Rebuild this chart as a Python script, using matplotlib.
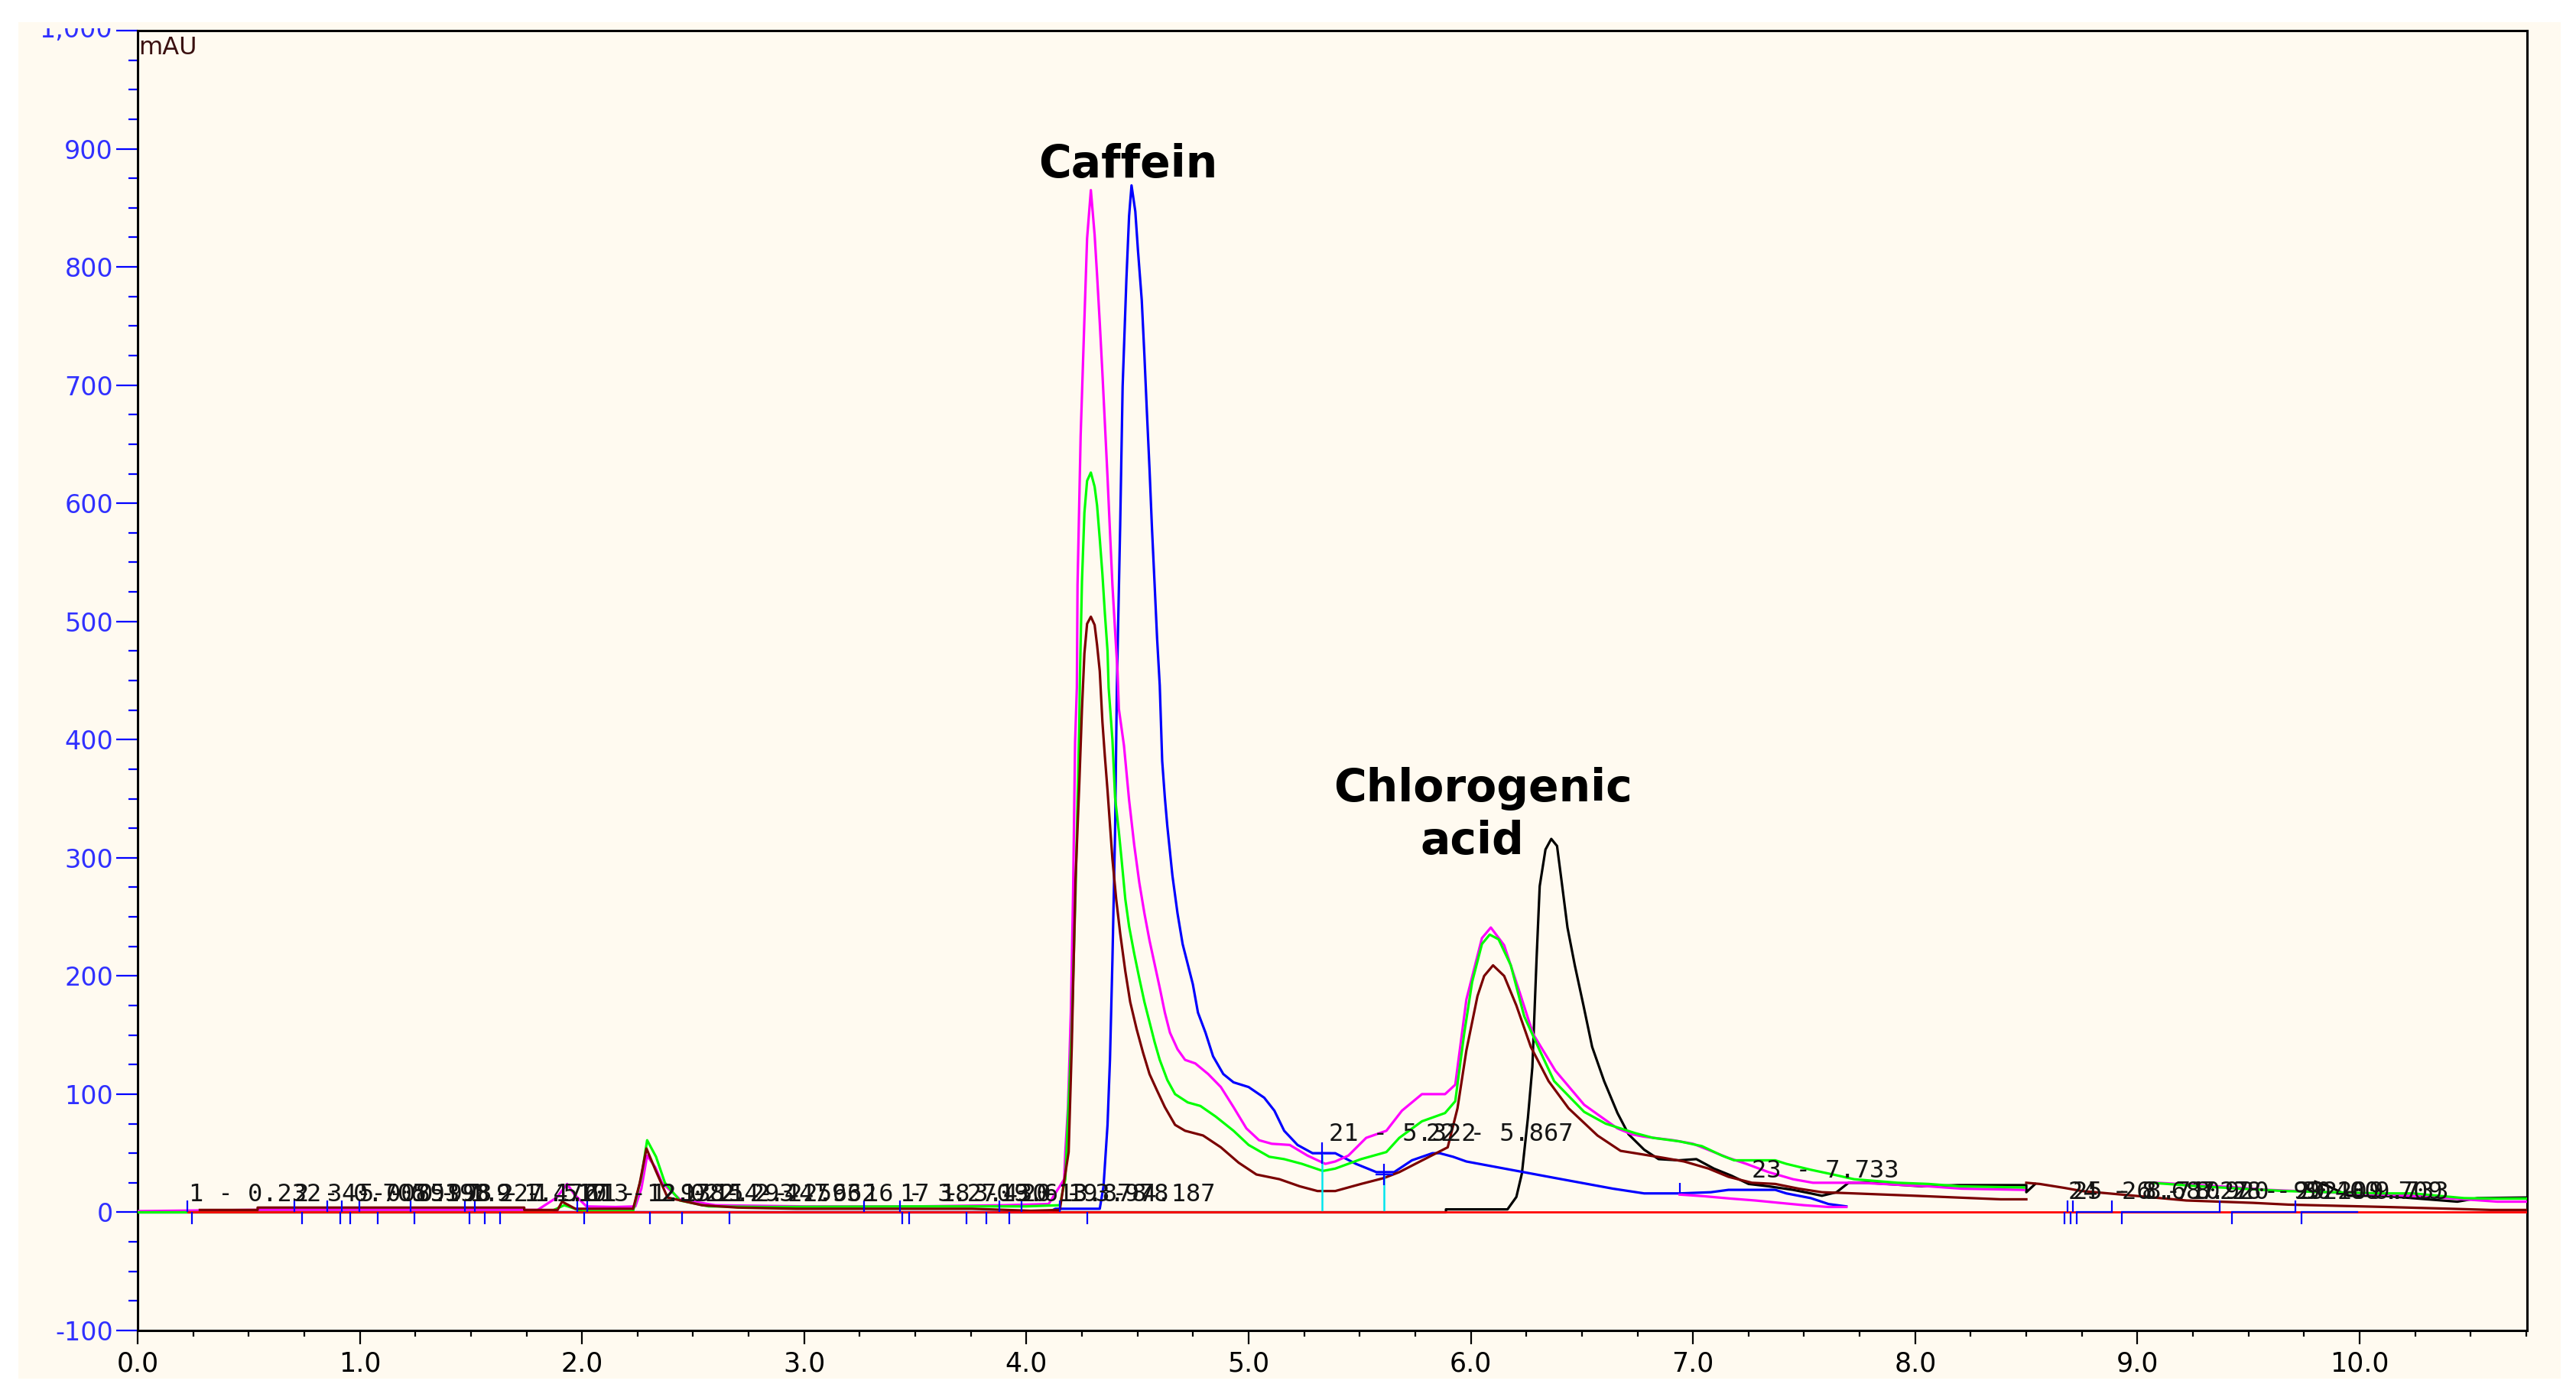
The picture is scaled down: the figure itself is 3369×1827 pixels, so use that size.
import numpy as np
import matplotlib
matplotlib.use('Agg')
from matplotlib import pyplot as plt
from matplotlib.patches import Rectangle
from matplotlib.transforms import Bbox, TransformedBbox
from matplotlib.ticker import MultipleLocator, FuncFormatter

nan = np.nan

# overlay of 5 chromatograms, time in min, signal in mAU
magenta_t = [0.0, 0.5, 1.0, 1.5, 1.80, 1.886, 1.933, 1.966, 2.02, 2.15, 2.24, 2.267, 2.293, 2.33, 2.36,
             2.44, 2.60, 3.0, 3.5, 3.9, 4.10, 4.17, 4.175, 4.187, 4.20, 4.21, 4.219, 4.227, 4.230, 4.244,
             4.261, 4.273, 4.29, 4.307, 4.318, 4.33, 4.342, 4.353, 4.365, 4.376, 4.387, 4.399, 4.41, 4.416,
             4.439, 4.462, 4.485, 4.508, 4.531, 4.554, 4.577, 4.60, 4.623, 4.646, 4.68, 4.714, 4.76, 4.818,
             4.875, 4.932, 4.99, 5.047, 5.104, 5.185, 5.265, 5.345, 5.39, 5.449, 5.529, 5.62, 5.69, 5.78,
             5.884, 5.93, 5.98, 6.05, 6.09, 6.15, 6.22, 6.28, 6.38, 6.51, 6.607, 6.66, 6.725, 6.78, 6.91,
             7.0, 7.08, 7.16, 7.24, 7.34, 7.45, 7.54, 7.75, 8.06, 8.21, 8.49, nan, 9.09, 9.41, 9.59, 10.28,
             10.62, 10.75]
magenta_v = [1, 2, 2, 2, 2, 12.5, 24, 15, 5, 4.5, 5, 20, 48, 38, 25,
             11, 6, 5, 5, 6, 7, 28, 51, 89, 169, 270, 398, 444, 531, 657,
             756, 824, 865, 827, 793, 753, 710, 668, 622, 576, 531, 492, 458, 426,
             395, 349, 311, 279, 253, 230, 210, 190, 169, 152, 138, 129, 126, 117,
             106, 89, 71, 61, 58, 57, 48, 41, 43, 48, 63, 69, 86, 100,
             100, 108, 180, 232, 241, 226, 186, 151, 120, 91, 78, 71, 66, 64, 61,
             58, 52, 46, 41, 34, 28, 25, 25, 22, 20, 19, nan, 25, 21.5, 19, 13.6,
             9, 9]
# short magenta piece under the blue tail
magenta_tail_t = [6.94, 7.05, 7.17, 7.28, 7.40, 7.50, 7.61, 7.69]
magenta_tail_v = [15, 13.6, 11.6, 10, 7.8, 6, 4.5, 4.5]

blue_t = [0.0, 4.10, 4.13, 4.33, 4.347, 4.365, 4.376, 4.387, 4.399, 4.407, 4.422, 4.433, 4.45, 4.462,
          4.473, 4.49, 4.502, 4.519, 4.531, 4.542, 4.554, 4.565, 4.577, 4.588, 4.60, 4.611, 4.623, 4.634,
          4.657, 4.68, 4.703, 4.726, 4.749, 4.772, 4.806, 4.84, 4.886, 4.932, 5.0, 5.07, 5.116, 5.16,
          5.22, 5.288, 5.39, 5.483, 5.575, 5.655, 5.735, 5.827, 5.86, 5.92, 5.98, 6.18, 6.38, 6.64,
          6.78, 6.94, 7.08, 7.16, 7.37, 7.42, 7.53, 7.61, 7.69]
blue_v = [0, 0, 3, 3, 22, 74, 129, 213, 322, 444, 582, 699, 790, 843,
          869, 847, 814, 772, 725, 678, 629, 579, 531, 486, 446, 382, 351, 327,
          285, 253, 227, 210, 193, 169, 152, 132, 117, 110, 106, 97, 86, 69,
          57, 50, 50, 41, 34, 34, 44, 50, 50, 47, 43, 36, 29, 20,
          16, 16, 17, 19, 19, 16, 12, 7, 5]

green_t = [0.0, 1.85, 1.92, 2.0, 2.23, 2.267, 2.293, 2.333, 2.373, 2.44, 2.57, 2.83, 3.5, 4.0, 4.15,
           4.175, 4.204, 4.221, 4.238, 4.241, 4.25, 4.261, 4.273, 4.29, 4.307, 4.318, 4.33, 4.342, 4.353,
           4.365, 4.37, 4.387, 4.399, 4.416, 4.428, 4.445, 4.462, 4.485, 4.508, 4.531, 4.554, 4.577, 4.60,
           4.634, 4.669, 4.726, 4.783, 4.852, 4.932, 5.0, 5.093, 5.16, 5.24, 5.334, 5.39, 5.506, 5.62,
           5.678, 5.78, 5.884, 5.93, 5.97, 6.006, 6.05, 6.085, 6.125, 6.18, 6.24, 6.31, 6.375, 6.51,
           6.607, 6.74, 6.82, 6.94, 7.04, 7.13, 7.185, 7.37, 7.42, 7.53, 7.63, 7.725, 7.92, 8.06, 8.20,
           8.49, nan, 9.06, 9.28, 9.66, 10.09, 10.24, 10.47, 10.62, 10.75]
green_v = [0, 0, 6, 1, 1, 30, 61, 47, 25, 10, 5, 4.5, 5, 5, 6,
           28, 155, 270, 415, 455, 534, 592, 619, 626, 614, 598, 570, 540, 507,
           475, 444, 400, 351, 322, 299, 265, 242, 219, 198, 178, 161, 144, 129,
           112, 100, 93, 90, 81, 69, 57, 47, 45, 41, 35, 37, 45, 51,
           63, 77, 84, 94, 151, 195, 227, 235, 231, 209, 166, 137, 111, 85,
           75, 67, 63, 60, 56, 48, 44, 44, 41, 36, 32, 28, 25, 24, 22,
           21, nan, 25, 22, 18, 16, 16, 12, 11.6, 11.6]

maroon_t = [0.28, 0.54, 0.54, 1.74, 1.74, 1.89, 1.91, 1.97, 2.23, 2.26, 2.29, 2.33, 2.385, 2.54, 2.70,
            2.965, 3.755, 4.02, 4.15, 4.19, 4.204, 4.221, 4.238, 4.25, 4.261, 4.273, 4.29, 4.307, 4.318,
            4.33, 4.342, 4.353, 4.365, 4.376, 4.387, 4.404, 4.422, 4.445, 4.467, 4.496, 4.525, 4.554,
            4.588, 4.623, 4.669, 4.714, 4.795, 4.875, 4.955, 5.035, 5.139, 5.23, 5.31, 5.39, 5.506, 5.609,
            5.678, 5.792, 5.896, 5.94, 5.98, 6.03, 6.06, 6.10, 6.15, 6.205, 6.27, 6.35, 6.44, 6.57, 6.674,
            6.74, 6.87, 6.96, 7.07, 7.16, 7.265, 7.37, 7.476, 7.58, 7.725, 8.0, 8.19, 8.385, 8.50, nan,
            8.50, 8.56, 8.67, 8.75, 8.93, 9.22, 9.52, 9.68, 10.12, 10.41, 10.59, 10.75]
maroon_v = [2, 2, 4, 4, 2, 2, 9, 3, 3, 25, 54, 36, 12.5, 6, 4,
            3, 3, 1.3, 2, 51, 140, 282, 363, 426, 473, 498, 504, 497, 480,
            458, 415, 386, 357, 328, 299, 265, 236, 204, 178, 155, 135, 117,
            103, 89, 74, 69, 65, 55, 42, 32, 28, 22, 18, 18, 24, 29,
            34, 45, 55, 88, 137, 183, 200, 209, 200, 175, 140, 111, 88, 65, 52,
            50, 46, 43, 37, 30, 25, 24, 20, 17, 16, 14, 12.5, 11, 11, nan,
            25, 24, 20.7, 18, 15, 10, 8, 6.5, 4.5, 3, 2, 2]

black_t = [0.0, 5.888, 5.888, 6.165, 6.205, 6.23, 6.257, 6.277, 6.296, 6.31, 6.336, 6.362, 6.388, 6.408,
           6.435, 6.468, 6.507, 6.546, 6.6, 6.66, 6.71, 6.78, 6.845, 6.936, 7.015, 7.094, 7.173, 7.25,
           7.34, 7.45, 7.53, 7.58, 7.646, 7.70, 7.79, 8.03, 8.19, 8.50, 8.50, 8.54, nan, 9.80, 9.86,
           9.95, 10.1, 10.44, 10.53, 10.75]
black_v = [0, 0, 2.5, 2.5, 13, 33, 80, 123, 215, 276, 307, 316, 310, 281,
           241, 209, 175, 140, 111, 84, 66, 53, 45, 44, 45, 37, 31, 24,
           22, 19, 16, 14, 17, 25, 25, 22, 23, 23, 17, 24, nan, 26, 22,
           14, 14, 9, 12, 12.5]

# integration marks
start_marks = [0.245, 0.74, 0.911, 0.956, 1.08, 1.246, 1.494, 1.562, 1.63, 2.01, 2.307, 2.45, 2.662,
               3.44, 3.473, 3.73, 3.82, 3.923, 4.275, 8.673, 8.70, 8.727, 8.93, 9.425, 9.74]
end_marks = [0.222, 0.705, 0.853, 0.919, 0.998, 1.227, 1.472, 1.517, 1.978, 2.022, 3.27, 3.43, 3.878,
             3.978, 4.15, 8.685, 8.71, 8.885, 9.37, 9.71]
base_from = [8.727, 8.93, 9.425, 9.74]
base_to = [8.885, 9.37, 9.71, 9.99]
split_t = [5.33, 5.61]
split_v = [50, 32]

peak_labels = ['1 - 0.232', '2 - 0.705', '3 - 0.853', '4 - 0.919', '5 - 0.998', '6 - 1.227', '7 - 1.472',
               '8 - 1.517', '9 - 1.613', '10 - 1.978', '11 - 2.022', '12 - 2.293', '13 - 2.447',
               '14 - 2.662', '15 - 2.593', '16 - 3.270', '17 - 3.430', '18 - 3.613', '19 - 3.878',
               '20 - 3.978', '19 - 4.187', '21 - 5.322', '22 - 5.867', '23 - 7.733', '24 - 8.687',
               '25 - 8.710', '26 - 8.920', '27 - 9.220', '28 - 9.400', '29 - 9.709', '30 - 9.733']
peak_label_t = [0.232, 0.705, 0.853, 0.919, 0.998, 1.227, 1.472, 1.517, 1.613, 1.978, 2.022, 2.293, 2.447,
                2.662, 2.593, 3.27, 3.43, 3.613, 3.878, 3.978, 4.187, 5.36, 5.80, 7.265, 8.69, 8.71, 8.93,
                9.37, 9.425, 9.71, 9.74]
peak_label_y = [5] * 21 + [56, 56, 25] + [7] * 7

W, H = 3369, 1827
cream = '#fffaf0'

fig = plt.figure(figsize=(W / 100, H / 100), dpi=100)
fig.patch.set_facecolor('white')
fig.add_artist(Rectangle((24 / W, 1 - 1803 / H), (3349 - 24) / W, (1803 - 29) / H,
                         transform=fig.transFigure, facecolor=cream, edgecolor='none', zorder=-10))

ax = fig.add_axes([180 / W, 1 - 1740 / H, 3125 / W, 1700 / H])
ax.set_facecolor(cream)
ax.set_xlim(0, 3125 / 290.6)
ax.set_ylim(-100, 1000)

lw = 2.3
ax.plot(black_t, black_v, color='black', lw=lw, zorder=2)
ax.plot(blue_t, blue_v, color='#0000ff', lw=lw, zorder=3)
ax.plot(magenta_t, magenta_v, color='#ff00ff', lw=lw, zorder=4)
ax.plot(magenta_tail_t, magenta_tail_v, color='#ff00ff', lw=lw, zorder=4)
ax.plot(green_t, green_v, color='#00ff00', lw=lw, zorder=5)
ax.plot(maroon_t, maroon_v, color='#7a0000', lw=lw, zorder=6)

# baseline
ax.plot([0.226, ax.get_xlim()[1]], [0, 0], color='#ff0000', lw=2.0, zorder=10)
for a, b in zip(base_from, base_to):
    ax.plot([a, b], [0, 0], color='#0000ff', lw=1.6, zorder=10.5)
ax.vlines(start_marks, -10, 0, color='#0000ff', lw=1.6, zorder=10.5)
ax.vlines(end_marks, 0, 10, color='#0000ff', lw=1.6, zorder=10.5)
ax.vlines(split_t, 0, split_v, color='#00e5ee', lw=1.8, zorder=9)
for t, v in zip(split_t, split_v):
    ax.vlines(t, v - 9, v + 9, color='#0000ff', lw=1.6, zorder=10.5)
    ax.hlines(v, t - 0.04, t + 0.04, color='#0000ff', lw=1.6, zorder=10.5)
ax.vlines(6.94, 16, 25, color='#0000ff', lw=1.6, zorder=10.5)

for txt, t, y in zip(peak_labels, peak_label_t, peak_label_y):
    ax.text(t, y, txt, fontsize=23, family='DejaVu Sans Mono', color='#141414',
            ha='left', va='bottom', zorder=11)

ax.text(4.456, 876, 'Caffein', fontsize=42, fontweight='bold', ha='center', va='baseline', zorder=12)
ax.text(6.056, 348, 'Chlorogenic', fontsize=42, fontweight='bold', ha='center', va='baseline', zorder=12)
ax.text(6.005, 303, 'acid', fontsize=42, fontweight='bold', ha='center', va='baseline', zorder=12)

ax.text(0.0004, 0.996, 'mAU', transform=ax.transAxes, fontsize=23, color='#3a1010',
        ha='left', va='top', zorder=12)

# axes styling
for sp in ax.spines.values():
    sp.set_linewidth(2.2)
    sp.set_color('black')
ax.xaxis.set_major_locator(MultipleLocator(1.0))
ax.xaxis.set_minor_locator(MultipleLocator(0.25))
ax.yaxis.set_major_locator(MultipleLocator(100))
ax.yaxis.set_minor_locator(MultipleLocator(25))
ax.xaxis.set_major_formatter(FuncFormatter(lambda v, p: '%.1f' % v))
ax.yaxis.set_major_formatter(FuncFormatter(lambda v, p: '' if v > 999 else '{:,.0f}'.format(v)))
ax.tick_params(axis='y', which='major', length=20, width=1.6, color='#0000ff',
               labelcolor='#3030ff', labelsize=24, pad=3)
ax.tick_params(axis='y', which='minor', length=8.5, width=1.6, color='#0000ff')
ax.tick_params(axis='x', which='major', length=13, width=1.6, color='black',
               labelcolor='black', labelsize=25, pad=6)
ax.tick_params(axis='x', which='minor', length=6, width=1.6, color='black')

# top label is cut by the frame edge in the original
top = ax.text(-33 / 3125, 1000, '1,000', transform=ax.get_yaxis_transform(), fontsize=24,
              color='#3030ff', ha='right', va='center', clip_on=True)
top.set_clip_box(TransformedBbox(Bbox([[0, 0], [1, 1 - 37 / H]]), fig.transFigure))

fig.savefig('out.png', dpi=100)
